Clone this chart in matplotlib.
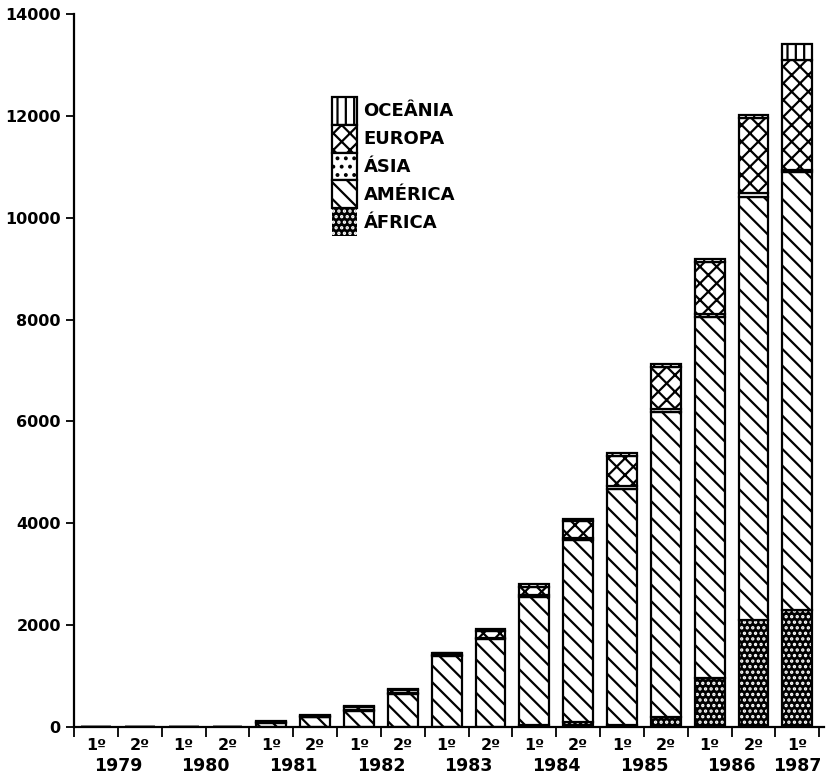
import numpy as np
import matplotlib
matplotlib.use('Agg')
import matplotlib.pyplot as plt
from matplotlib.patches import Patch

semesters = ['1º', '2º', '1º', '2º', '1º', '2º', '1º', '2º', '1º', '2º',
             '1º', '2º', '1º', '2º', '1º', '2º', '1º']
years = ['1979', '1980', '1981', '1982', '1983', '1984', '1985', '1986', '1987']

africa = [0, 0, 0, 0, 0, 0, 0, 0, 0, 0, 30, 90, 30, 200, 970, 2100, 2300]
america = [5, 5, 5, 5, 80, 190, 320, 650, 1400, 1720, 2530, 3580, 4650, 5980, 7080, 8300, 8600]
asia = [0, 0, 0, 0, 10, 10, 20, 20, 20, 30, 40, 40, 50, 70, 60, 80, 40]
europa = [0, 0, 0, 0, 10, 20, 60, 50, 30, 130, 150, 330, 600, 820, 1030, 1480, 2160]
oceania = [0, 0, 0, 0, 10, 10, 20, 20, 10, 40, 50, 40, 50, 50, 60, 60, 310]

plt.rcParams['hatch.linewidth'] = 1.6
plt.rcParams['font.family'] = 'DejaVu Sans'
plt.rcParams['font.weight'] = 'bold'

fig = plt.figure(figsize=(8.27, 7.83), dpi=100)
ax = fig.add_axes([0.0895, 0.0715, 0.9065, 0.9105])

x = np.arange(len(semesters))
w = 0.68
bottom = np.zeros(len(x))

# africa: black with white dots
ax.bar(x, africa, w, bottom=bottom, color='black', edgecolor='white', hatch='...', linewidth=0)
ax.bar(x, africa, w, bottom=bottom, fill=False, edgecolor='black', linewidth=1.6)
bottom += africa

series = [(america, '\\\\'), (asia, '..'), (europa, 'xx'), (oceania, '||')]
for vals, h in series:
    ax.bar(x, vals, w, bottom=bottom, color='white', edgecolor='black', hatch=h, linewidth=1.6)
    bottom += vals

handles = [
    Patch(facecolor='white', edgecolor='black', hatch='||', linewidth=1.6),
    Patch(facecolor='white', edgecolor='black', hatch='xx', linewidth=1.6),
    Patch(facecolor='white', edgecolor='black', hatch='..', linewidth=1.6),
    Patch(facecolor='white', edgecolor='black', hatch='\\\\', linewidth=1.6),
    Patch(facecolor='black', edgecolor='white', hatch='...', linewidth=0),
]
labels = ['OCEÂNIA', 'EUROPA', 'ÁSIA', 'AMÉRICA', 'ÁFRICA']
ax.legend(handles, labels, loc='upper left', bbox_to_anchor=(0.344, 0.884),
          frameon=False, borderpad=0, labelspacing=0.0, handlelength=1.4,
          handleheight=2.0, handletextpad=0.35, borderaxespad=0,
          prop={'size': 13, 'weight': 'bold'})

ax.set_xlim(-0.5, 16.6)
ax.set_ylim(0, 14000)
ax.set_yticks(np.arange(0, 14001, 2000))
ax.set_yticklabels([str(v) for v in range(0, 14001, 2000)], fontsize=11.5, fontweight='bold')
ax.tick_params(axis='y', direction='out', length=6, width=1.3)

ax.set_xticks(x)
ax.set_xticklabels(semesters, fontsize=11.5, fontweight='bold')
ax.tick_params(axis='x', which='major', length=0, pad=8)
ax.set_xticks(np.arange(-0.5, 17, 1), minor=True)
ax.tick_params(axis='x', which='minor', direction='out', length=7, width=1.3)

for i, yr in enumerate(years):
    xc = 2 * i + 0.5 if i < 8 else 16
    ax.annotate(yr, (xc, 0), xycoords=('data', 'axes fraction'),
                xytext=(0, -28), textcoords='offset points',
                ha='center', va='center', fontsize=12.5, fontweight='bold')

for s in ['top', 'right']:
    ax.spines[s].set_visible(False)
ax.spines['left'].set_linewidth(1.6)
ax.spines['bottom'].set_linewidth(1.6)

fig.savefig('out.png', dpi=100)
